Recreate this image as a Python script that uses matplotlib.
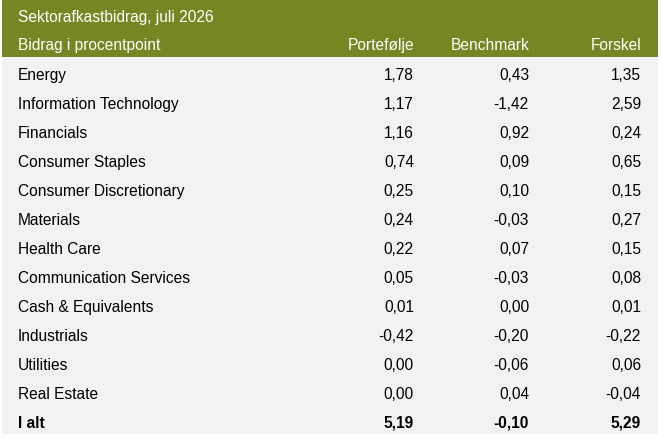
import matplotlib
matplotlib.use("Agg")
import matplotlib.pyplot as plt
from matplotlib.patches import Rectangle

plt.rcParams['font.family'] = ['Liberation Sans', 'DejaVu Sans']

title = "Sektorafkastbidrag, juli 2026"
header = ["Bidrag i procentpoint", "Portefølje", "Benchmark", "Forskel"]
sectors = ["Energy", "Information Technology", "Financials", "Consumer Staples",
           "Consumer Discretionary", "Materials", "Health Care",
           "Communication Services", "Cash & Equivalents", "Industrials",
           "Utilities", "Real Estate"]
portfolio = [1.78, 1.17, 1.16, 0.74, 0.25, 0.24, 0.22, 0.05, 0.01, -0.42, 0.00, 0.00]
benchmark = [0.43, -1.42, 0.92, 0.09, 0.10, -0.03, 0.07, -0.03, 0.00, -0.20, -0.06, 0.04]
difference = [1.35, 2.59, 0.24, 0.65, 0.15, 0.27, 0.15, 0.08, 0.01, -0.22, 0.06, -0.04]
total_label = "I alt"
totals = [5.19, -0.10, 5.29]

W, H = 662, 439
green = "#758623"
grey = "#f2f2f2"

fig = plt.figure(figsize=(W / 100, H / 100), dpi=100)
ax = fig.add_axes([0, 0, 1, 1])
ax.set_xlim(0, W)
ax.set_ylim(H, 0)
ax.axis("off")


def fmt(v):
    return f"{v:.2f}".replace(".", ",")


left, right = 2, 658
top, head_end, row_h = 1, 58, 29
n_rows = len(sectors) + 1

ax.add_patch(Rectangle((left, top), right - left, head_end - top, color=green, lw=0))
ax.add_patch(Rectangle((left, head_end), right - left, n_rows * row_h, color=grey, lw=0))

fs = 11.2
text_x = 18
col_x = [414, 529, 641]

# baselines
ax.text(text_x, 22, title, color="white", fontsize=fs, va="baseline", ha="left")
ax.text(text_x, 50, header[0], color="white", fontsize=fs, va="baseline", ha="left")
for x, h in zip(col_x, header[1:]):
    ax.text(x, 50, h, color="white", fontsize=fs, va="baseline", ha="right")

rows = list(zip(sectors, portfolio, benchmark, difference))
rows.append((total_label, *totals))
for i, (name, p, b, d) in enumerate(rows):
    y = 80 + row_h * i
    weight = "bold" if name == total_label else "normal"
    ax.text(text_x, y, name, color="black", fontsize=fs, va="baseline", ha="left", fontweight=weight)
    for x, v in zip(col_x, (p, b, d)):
        ax.text(x, y, fmt(v), color="black", fontsize=fs, va="baseline", ha="right", fontweight=weight)

fig.savefig("out.png", dpi=100)
